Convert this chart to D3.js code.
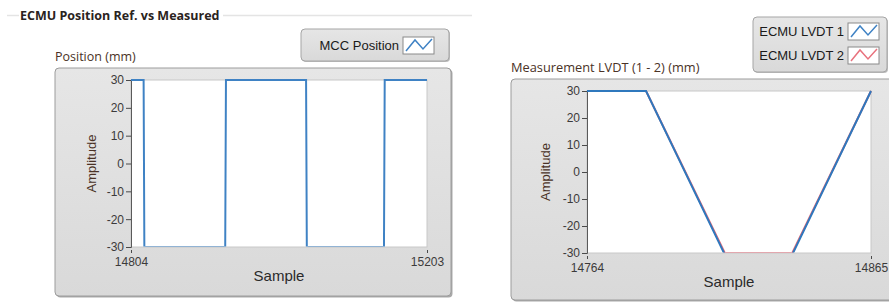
<!DOCTYPE html>
<html>
<head>
<meta charset="utf-8">
<script src="https://cdn.jsdelivr.net/npm/d3@7"></script>
<style>
  body { margin: 0; background: #fff; }
  svg { display: block; }
  .tick text { font-family: "Liberation Sans", Arial, sans-serif; font-size: 12px; fill: #3c3a3a; }
</style>
</head>
<body>
<div id="chart"></div>
<script>
// Chart data.
var yTicks = [-30, -20, -10, 0, 10, 20, 30];

// Left graph: MCC position (square wave).
var posDomain = [14804, 15203];
var posSamples = [14804, 14821, 14822, 14931, 14932, 15040, 15041, 15145, 15146, 15203];
var posValues = [30, 30, -30, -30, 30, 30, -30, -30, 30, 30];

// Right graph: LVDT 1 and 2 (trapezoid).
var lvdtDomain = [14764, 14865];
var lvdtSamples = [14764, 14785, 14813, 14837, 14865];
var lvdt1Values = [30, 30, -30.6, -30.6, 30];
var lvdt2Values = [30, 30, -30, -30, 30];

var width = 889;
var height = 302;

// plain hyphen minus like the original, not the unicode one
var fmt = function(d) { return String(d); };

var svg = d3.select("#chart").append("svg")
    .attr("width", width)
    .attr("height", height);

var defs = svg.append("defs");
var grad = defs.append("linearGradient")
    .attr("id", "panelGrad")
    .attr("x1", 0).attr("y1", 0).attr("x2", 0).attr("y2", 1);
grad.append("stop").attr("offset", "0%").attr("stop-color", "#e6e6e6");
grad.append("stop").attr("offset", "100%").attr("stop-color", "#d9d9d9");

// Group frame title + line
svg.append("line")
    .attr("x1", 7).attr("x2", 19).attr("y1", 15.5).attr("y2", 15.5)
    .style("stroke", "#e4e4e4").style("stroke-width", 1.5);
svg.append("line")
    .attr("x1", 223).attr("x2", 472).attr("y1", 15.5).attr("y2", 15.5)
    .style("stroke", "#e4e4e4").style("stroke-width", 1.5);
svg.append("text")
    .attr("x", 20).attr("y", 20)
    .style("font-family", "'Open Sans', sans-serif")
    .style("font-size", "12.5px")
    .style("font-weight", "bold")
    .style("fill", "#2a2320")
    .text("ECMU Position Ref. vs Measured");

// Draw one legend box
function drawLegend(box, entries) {
    svg.append("rect")
        .attr("x", box.x + 1).attr("y", box.y + 1)
        .attr("width", box.w).attr("height", box.h)
        .attr("rx", 4)
        .style("fill", "#bdbdbd");
    svg.append("rect")
        .attr("x", box.x).attr("y", box.y)
        .attr("width", box.w).attr("height", box.h)
        .attr("rx", 4)
        .style("fill", "url(#panelGrad)")
        .style("stroke", "#a5a5a5");
    entries.forEach(function(e, i) {
        var cy = box.y + 14 + i * 24 + (entries.length === 1 ? 2 : 0);
        svg.append("text")
            .attr("x", box.textX).attr("y", cy + 5)
            .attr("text-anchor", "end")
            .style("font-family", "'Liberation Sans', Arial, sans-serif")
            .style("font-size", "13px")
            .style("fill", "#1a1a1a")
            .text(e.name);
        var sx = box.textX + 4;
        svg.append("rect")
            .attr("x", sx).attr("y", cy - 8)
            .attr("width", 31).attr("height", 17)
            .style("fill", "#fff")
            .style("stroke", "#8a8a8a");
        svg.append("path")
            .attr("d", "M" + (sx + 3) + "," + (cy + 6) + " L" + (sx + 12) + "," + (cy - 5) +
                " L" + (sx + 20) + "," + (cy + 4) + " L" + (sx + 29) + "," + (cy - 6))
            .style("fill", "none")
            .style("stroke", e.color)
            .style("stroke-width", 1.5);
    });
}

// Draw one graph panel with axes and lines
function drawGraph(cfg) {
    svg.append("text")
        .attr("x", cfg.panel.x).attr("y", cfg.panel.y - 7)
        .style("font-family", "'Open Sans', sans-serif")
        .style("font-size", cfg.titleSize)
        .style("fill", "#4a3226")
        .text(cfg.title);

    svg.append("rect")
        .attr("x", cfg.panel.x + 1.5).attr("y", cfg.panel.y + 1.5)
        .attr("width", cfg.panel.w).attr("height", cfg.panel.h)
        .attr("rx", 4)
        .style("fill", "#a9a9a9");
    svg.append("rect")
        .attr("x", cfg.panel.x).attr("y", cfg.panel.y)
        .attr("width", cfg.panel.w).attr("height", cfg.panel.h)
        .attr("rx", 4)
        .style("fill", "url(#panelGrad)")
        .style("stroke", "#9c9c9c");

    var x = d3.scaleLinear().domain(cfg.domain).range([cfg.plot.x0, cfg.plot.x1]);
    var y = d3.scaleLinear().domain([-30, 30]).range([cfg.plot.y1, cfg.plot.y0]);

    svg.append("rect")
        .attr("x", cfg.plot.x0).attr("y", cfg.plot.y0)
        .attr("width", cfg.plot.x1 - cfg.plot.x0)
        .attr("height", cfg.plot.y1 - cfg.plot.y0)
        .style("fill", "#fff")
        .style("stroke", "#c8c8c8");

    var clipId = "clip" + cfg.id;
    defs.append("clipPath").attr("id", clipId)
        .append("rect")
        .attr("x", cfg.plot.x0).attr("y", cfg.plot.y0 - 1)
        .attr("width", cfg.plot.x1 - cfg.plot.x0 + 1)
        .attr("height", cfg.plot.y1 - cfg.plot.y0 + 0.5);

    var yAxis = svg.append("g")
        .attr("transform", "translate(" + cfg.plot.x0 + ",0)")
        .call(d3.axisLeft(y).tickValues(yTicks).tickSize(5).tickPadding(2).tickFormat(fmt));
    yAxis.select(".domain").style("stroke", "#5a5a5a");
    yAxis.selectAll(".tick line").style("stroke", "#4a4a4a");

    var xAxis = svg.append("g")
        .attr("transform", "translate(0," + cfg.plot.y1 + ")")
        .call(d3.axisBottom(x).tickValues(cfg.domain).tickSize(6).tickPadding(4).tickFormat(fmt));
    xAxis.select(".domain").remove();
    xAxis.selectAll(".tick line").attr("y1", 3).style("stroke", "#4a4a4a");

    svg.append("text")
        .attr("transform", "translate(" + cfg.ampX + "," + ((cfg.plot.y0 + cfg.plot.y1) / 2) + ") rotate(-90)")
        .attr("text-anchor", "middle")
        .style("font-family", "'Liberation Sans', Arial, sans-serif")
        .style("font-size", "13px")
        .style("fill", "#4a3226")
        .text("Amplitude");

    svg.append("text")
        .attr("x", (cfg.plot.x0 + cfg.plot.x1) / 2)
        .attr("y", cfg.plot.y1 + 34)
        .attr("text-anchor", "middle")
        .style("font-family", "'Liberation Sans', Arial, sans-serif")
        .style("font-size", "15px")
        .style("fill", "#2a2a2a")
        .text("Sample");

    var line = d3.line()
        .x(function(d) { return x(d[0]); })
        .y(function(d) { return y(d[1]); });

    var g = svg.append("g").attr("clip-path", "url(#" + clipId + ")");
    cfg.series.forEach(function(s) {
        g.append("path")
            .datum(d3.zip(cfg.samples, s.values))
            .attr("d", line)
            .style("fill", "none")
            .style("stroke", s.color)
            .style("stroke-width", 2);
    });
}

drawGraph({
    id: "pos",
    title: "Position (mm)",
    titleSize: "12.5px",
    panel: { x: 55, y: 68, w: 396, h: 228 },
    plot: { x0: 131, x1: 427, y0: 80, y1: 247 },
    domain: posDomain,
    ampX: 96,
    samples: posSamples,
    series: [{ values: posValues, color: "#3f82c4" }]
});

drawGraph({
    id: "lvdt",
    title: "Measurement LVDT (1 - 2) (mm)",
    titleSize: "12.8px",
    panel: { x: 511, y: 79, w: 390, h: 221 },
    plot: { x0: 587, x1: 871, y0: 91, y1: 253 },
    domain: lvdtDomain,
    ampX: 550,
    samples: lvdtSamples,
    series: [
        { values: lvdt2Values, color: "#e06a78" },
        { values: lvdt1Values, color: "#2f78bd" }
    ]
});

drawLegend({ x: 301, y: 29, w: 148, h: 32, textX: 399 }, [
    { name: "MCC Position", color: "#3f82c4" }
]);

drawLegend({ x: 753, y: 17, w: 134, h: 55, textX: 844 }, [
    { name: "ECMU LVDT 1", color: "#3f82c4" },
    { name: "ECMU LVDT 2", color: "#e8727e" }
]);
</script>
</body>
</html>
